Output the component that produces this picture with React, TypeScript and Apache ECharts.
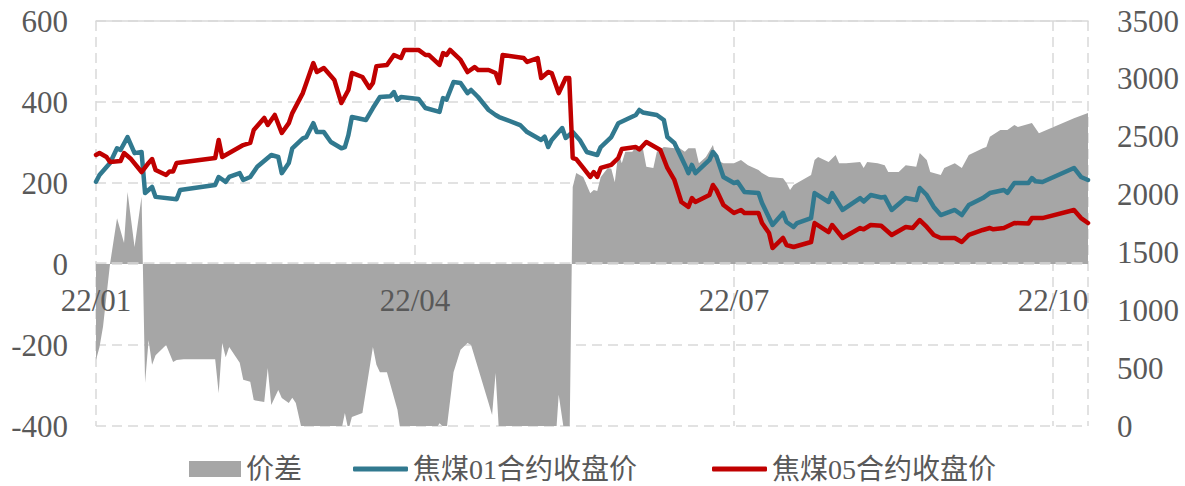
import React, { useEffect, useRef } from "react";
import * as echarts from "echarts";

// 价差 (left axis), date MM-DD in 2022
const SPREAD: [string, number][] = [
  ["01-04", -237], ["01-05", -205], ["01-06", -155], ["01-08", 0], ["01-10", 113], ["01-12", 52],
  ["01-13", 178], ["01-15", 42], ["01-17", 166], ["01-18", -294], ["01-19", -188], ["01-20", -249],
  ["01-21", -225], ["01-24", -200], ["01-26", -242], ["01-27", -237], ["01-29", -235], ["02-07", -235],
  ["02-08", -319], ["02-09", -195], ["02-10", -230], ["02-11", -205], ["02-14", -244], ["02-15", -286],
  ["02-17", -291], ["02-18", -336], ["02-21", -341], ["02-22", -257], ["02-23", -348], ["02-25", -311],
  ["02-26", -331], ["02-28", -343], ["03-01", -330], ["03-02", -343], ["03-04", -420], ["03-07", -520],
  ["03-10", -554], ["03-13", -550], ["03-15", -410], ["03-16", -368], ["03-17", -410], ["03-18", -378],
  ["03-21", -368], ["03-24", -205], ["03-25", -249], ["03-26", -267], ["03-28", -267], ["03-31", -360],
  ["04-01", -420], ["04-06", -430], ["04-08", -450], ["04-12", -393], ["04-14", -410], ["04-16", -267],
  ["04-18", -212], ["04-20", -195], ["04-21", -200], ["04-26", -343], ["04-27", -373], ["04-28", -269],
  ["04-29", -420], ["05-06", -580], ["05-10", -700], ["05-14", -580], ["05-16", -323], ["05-18", -440],
  ["05-19", -500], ["05-20", 190], ["05-21", 225], ["05-23", 215], ["05-25", 175], ["05-26", 183],
  ["05-27", 180], ["05-28", 215], ["05-30", 237], ["05-31", 235], ["06-01", 202], ["06-02", 274],
  ["06-03", 249], ["06-04", 277], ["06-06", 277], ["06-07", 289], ["06-09", 286], ["06-10", 240],
  ["06-12", 237], ["06-13", 277], ["06-15", 289], ["06-18", 286], ["06-19", 289], ["06-21", 277],
  ["06-22", 286], ["06-24", 286], ["06-25", 249], ["06-27", 264], ["06-29", 294], ["06-30", 257],
  ["07-02", 249], ["07-05", 249], ["07-07", 257], ["07-09", 244], ["07-12", 232], ["07-13", 225],
  ["07-15", 215], ["07-19", 212], ["07-20", 200], ["07-21", 183], ["07-22", 195], ["07-27", 220],
  ["07-28", 257], ["07-29", 264], ["08-01", 252], ["08-03", 269], ["08-04", 249], ["08-06", 249],
  ["08-10", 252], ["08-11", 237], ["08-12", 252], ["08-15", 249], ["08-17", 244], ["08-18", 227],
  ["08-21", 227], ["08-23", 244], ["08-26", 240], ["08-27", 274], ["08-29", 257], ["08-30", 227],
  ["09-02", 220], ["09-03", 237], ["09-06", 249], ["09-08", 237], ["09-10", 269], ["09-14", 286],
  ["09-15", 289], ["09-16", 314], ["09-19", 331], ["09-21", 331], ["09-23", 343], ["09-24", 338],
  ["09-28", 348], ["09-30", 323], ["10-10", 360], ["10-14", 373],
];

// 焦煤01合约收盘价 (right axis)
const JM01: [string, number][] = [
  ["01-04", 2111], ["01-05", 2169], ["01-08", 2273], ["01-10", 2400], ["01-11", 2385], ["01-13", 2497],
  ["01-15", 2358], ["01-17", 2368], ["01-18", 2013], ["01-20", 2066], ["01-21", 1980], ["01-27", 1960],
  ["01-28", 2040], ["02-07", 2083], ["02-08", 2152], ["02-10", 2110], ["02-11", 2152], ["02-14", 2185],
  ["02-15", 2126], ["02-17", 2152], ["02-19", 2240], ["02-23", 2342], ["02-25", 2325], ["02-26", 2185],
  ["02-28", 2273], ["03-01", 2400], ["03-04", 2486], ["03-05", 2497], ["03-07", 2617], ["03-08", 2540],
  ["03-10", 2540], ["03-12", 2454], ["03-15", 2400], ["03-16", 2411], ["03-17", 2514], ["03-18", 2670],
  ["03-22", 2644], ["03-24", 2748], ["03-26", 2843], ["03-29", 2850], ["03-30", 2886], ["03-31", 2817],
  ["04-01", 2843], ["04-06", 2826], ["04-08", 2748], ["04-12", 2714], ["04-13", 2834], ["04-14", 2820],
  ["04-16", 2973], ["04-18", 2964], ["04-20", 2877], ["04-21", 2904], ["04-23", 2843], ["04-26", 2731],
  ["04-28", 2688], ["04-29", 2670], ["05-05", 2601], ["05-07", 2540], ["05-11", 2472], ["05-12", 2500],
  ["05-13", 2411], ["05-14", 2472], ["05-17", 2575], ["05-18", 2489], ["05-20", 2540], ["05-22", 2472],
  ["05-24", 2368], ["05-27", 2342], ["05-28", 2411], ["05-31", 2497], ["06-02", 2617], ["06-07", 2688],
  ["06-08", 2731], ["06-09", 2710], ["06-13", 2688], ["06-15", 2644], ["06-16", 2497], ["06-18", 2446],
  ["06-21", 2256], ["06-22", 2185], ["06-23", 2256], ["06-24", 2185], ["06-28", 2299], ["06-29", 2368],
  ["06-30", 2330], ["07-02", 2152], ["07-05", 2100], ["07-06", 2110], ["07-08", 2022], ["07-12", 2013],
  ["07-13", 1927], ["07-16", 1737], ["07-19", 1841], ["07-20", 1763], ["07-22", 1720], ["07-23", 1754],
  ["07-27", 1797], ["07-28", 2013], ["08-01", 1936], ["08-02", 2013], ["08-05", 1867], ["08-10", 1970],
  ["08-11", 1940], ["08-13", 1996], ["08-16", 1975], ["08-17", 1980], ["08-19", 1867], ["08-23", 1970],
  ["08-26", 1953], ["08-27", 2057], ["08-29", 1996], ["08-31", 1893], ["09-02", 1823], ["09-06", 1867],
  ["09-08", 1823], ["09-10", 1910], ["09-14", 1970], ["09-16", 2013], ["09-20", 2040], ["09-21", 2015],
  ["09-23", 2100], ["09-27", 2100], ["09-28", 2143], ["09-29", 2115], ["10-01", 2109], ["10-10", 2230],
  ["10-12", 2152], ["10-14", 2126],
];

// 焦煤05合约收盘价 (right axis)
const JM05: [string, number][] = [
  ["01-04", 2342], ["01-05", 2359], ["01-07", 2325], ["01-08", 2282], ["01-11", 2290], ["01-12", 2359],
  ["01-14", 2307], ["01-17", 2195], ["01-19", 2273], ["01-20", 2307], ["01-21", 2212], ["01-24", 2169],
  ["01-25", 2200], ["01-26", 2200], ["01-27", 2273], ["02-07", 2316], ["02-08", 2472], ["02-09", 2325],
  ["02-11", 2359], ["02-15", 2428], ["02-17", 2446], ["02-18", 2558], ["02-21", 2662], ["02-22", 2601],
  ["02-24", 2688], ["02-26", 2532], ["02-28", 2617], ["03-01", 2704], ["03-04", 2877], ["03-07", 3137],
  ["03-08", 3059], ["03-10", 3094], ["03-13", 2990], ["03-15", 2791], ["03-17", 2904], ["03-18", 3051],
  ["03-21", 3016], ["03-23", 2921], ["03-24", 2964], ["03-25", 3110], ["03-28", 3120], ["03-30", 3206],
  ["04-01", 3180], ["04-02", 3250], ["04-06", 3250], ["04-08", 3206], ["04-09", 3206], ["04-12", 3120],
  ["04-13", 3223], ["04-14", 3206], ["04-15", 3250], ["04-18", 3163], ["04-20", 3059], ["04-22", 3102],
  ["04-23", 3077], ["04-26", 3077], ["04-28", 3051], ["04-29", 2964], ["04-30", 3206], ["05-06", 3180],
  ["05-07", 3146], ["05-10", 3180], ["05-11", 3007], ["05-13", 3059], ["05-14", 3050], ["05-16", 2877],
  ["05-18", 3007], ["05-19", 3007], ["05-20", 2316], ["05-21", 2307], ["05-23", 2230], ["05-25", 2152],
  ["05-26", 2195], ["05-27", 2152], ["05-28", 2230], ["05-31", 2256], ["06-02", 2316], ["06-03", 2394],
  ["06-07", 2411], ["06-08", 2390], ["06-10", 2454], ["06-14", 2385], ["06-16", 2230], ["06-18", 2126],
  ["06-20", 1936], ["06-22", 1893], ["06-23", 1970], ["06-24", 1936], ["06-28", 1996], ["06-29", 2083],
  ["06-30", 2040], ["07-02", 1910], ["07-05", 1841], ["07-07", 1867], ["07-08", 1841], ["07-12", 1841],
  ["07-13", 1754], ["07-15", 1668], ["07-16", 1538], ["07-19", 1625], ["07-20", 1564], ["07-22", 1547],
  ["07-27", 1590], ["07-28", 1754], ["08-01", 1676], ["08-02", 1737], ["08-05", 1625], ["08-10", 1711],
  ["08-11", 1700], ["08-13", 1737], ["08-16", 1730], ["08-19", 1651], ["08-23", 1720], ["08-25", 1711],
  ["08-27", 1780], ["08-29", 1720], ["08-31", 1651], ["09-02", 1625], ["09-06", 1625], ["09-08", 1590],
  ["09-10", 1651], ["09-14", 1694], ["09-16", 1711], ["09-17", 1700], ["09-20", 1711], ["09-23", 1754],
  ["09-27", 1750], ["09-28", 1797], ["10-01", 1797], ["10-10", 1867], ["10-12", 1797], ["10-14", 1754],
];

const SERIES_NAMES = ["价差", "焦煤01合约收盘价", "焦煤05合约收盘价"];
const START = Date.UTC(2022, 0, 4);
const AXIS_MAX_DAY = 283; // 2022-10-14
const TICK_DAYS = 91;

const dayOf = (md: string) => {
  const [m, d] = md.split("-").map(Number);
  return Math.round((Date.UTC(2022, m - 1, d) - START) / 86400000);
};
const toXY = (arr: [string, number][]) => arr.map(([d, v]) => [dayOf(d), v]);

const labelOf = (v: number) => {
  if (v % TICK_DAYS !== 0) return "";
  const dt = new Date(START + v * 86400000);
  const yy = String(dt.getUTCFullYear()).slice(2);
  const mm = String(dt.getUTCMonth() + 1).padStart(2, "0");
  return `${yy}/${mm}`;
};

const TEXT = "#595959";
const GRIDC = "#D9D9D9";
const SERIF = '"Liberation Serif", "Times New Roman", serif';
const LEGEND_FONT = '"Liberation Serif", "Noto Sans CJK SC", serif';

export default function App() {
  const ref = useRef<HTMLDivElement>(null);
  useEffect(() => {
    if (!ref.current) return;
    const chart = echarts.init(ref.current, undefined, { renderer: "svg" });
    const dashed = { color: GRIDC, width: 1.5, type: [10, 6] as any };
    const legendBase = {
      top: 455,
      padding: 0,
      selectedMode: false,
      textStyle: { color: TEXT, fontSize: 28, lineHeight: 28, fontFamily: LEGEND_FONT },
      itemGap: 8,
    };
    chart.setOption({
      animation: false,
      grid: { left: 96, right: 97, top: 21, bottom: 60, containLabel: false },
      legend: [
        { ...legendBase, left: 189, itemWidth: 52, itemHeight: 16, data: [{ name: SERIES_NAMES[0], icon: "rect" }] },
        { ...legendBase, left: 353, itemWidth: 55, itemHeight: 5, data: [{ name: SERIES_NAMES[1], icon: "roundRect" }] },
        { ...legendBase, left: 712, itemWidth: 55, itemHeight: 5, data: [{ name: SERIES_NAMES[2], icon: "roundRect" }] },
      ],
      xAxis: [
        {
          type: "value", min: 0, max: AXIS_MAX_DAY, interval: TICK_DAYS,
          axisLine: { show: false, onZero: false }, axisTick: { show: false }, axisLabel: { show: false },
          splitLine: { show: true, lineStyle: dashed },
        },
        {
          type: "value", position: "bottom", offset: -163, min: 0, max: AXIS_MAX_DAY, interval: TICK_DAYS, z: 5,
          axisLine: { show: true, onZero: false, lineStyle: dashed },
          axisTick: { show: false }, splitLine: { show: false },
          axisLabel: {
            show: true, margin: 22, color: TEXT, fontSize: 31, fontFamily: SERIF,
            showMinLabel: true, showMaxLabel: false, formatter: (v: number) => labelOf(v),
          },
        },
        {
          type: "value", position: "top", min: 0, max: AXIS_MAX_DAY,
          axisLine: { show: true, onZero: false, lineStyle: { color: GRIDC, width: 1.5 } },
          axisTick: { show: false }, axisLabel: { show: false }, splitLine: { show: false },
        },
      ],
      yAxis: [
        {
          type: "value", min: -400, max: 600, interval: 200, position: "left",
          axisLine: { show: false, onZero: false }, axisTick: { show: false },
          axisLabel: { margin: 28, color: TEXT, fontSize: 31, fontFamily: SERIF, formatter: (v: number) => String(v) },
          splitLine: { show: true, lineStyle: dashed },
        },
        {
          type: "value", min: 0, max: 3500, interval: 500, position: "right",
          axisLine: { show: false, onZero: false }, axisTick: { show: false },
          axisLabel: { margin: 29, color: TEXT, fontSize: 31, fontFamily: SERIF, formatter: (v: number) => String(v) },
          splitLine: { show: false },
        },
      ],
      series: [
        {
          name: SERIES_NAMES[0], type: "line", xAxisIndex: 0, yAxisIndex: 0, z: 1,
          data: toXY(SPREAD), symbol: "none", showSymbol: false,
          lineStyle: { width: 0, color: "#A6A6A6" }, itemStyle: { color: "#A6A6A6" },
          areaStyle: { color: "#A6A6A6", opacity: 1 },
        },
        {
          name: SERIES_NAMES[1], type: "line", xAxisIndex: 0, yAxisIndex: 1, z: 3,
          data: toXY(JM01), symbol: "none", showSymbol: false,
          lineStyle: { width: 4.5, color: "#31798F", join: "round", cap: "round" }, itemStyle: { color: "#31798F" },
        },
        {
          name: SERIES_NAMES[2], type: "line", xAxisIndex: 0, yAxisIndex: 1, z: 4,
          data: toXY(JM05), symbol: "none", showSymbol: false,
          lineStyle: { width: 4.5, color: "#C00000", join: "round", cap: "round" }, itemStyle: { color: "#C00000" },
        },
      ],
    });
    return () => chart.dispose();
  }, []);
  return (
    <div
      ref={ref}
      style={{ position: "absolute", left: 0, top: 0, width: 1185, height: 486, background: "#fff" }}
    />
  );
}
